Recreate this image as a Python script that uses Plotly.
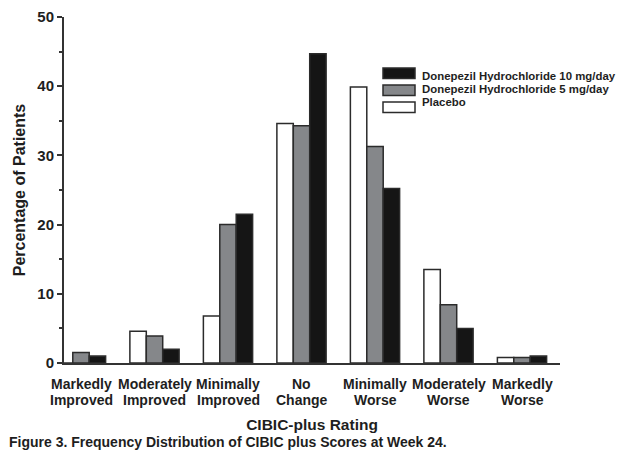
import plotly.graph_objects as go

categories = ["Markedly Improved", "Moderately Improved", "Minimally Improved", "No Change",
              "Minimally Worse", "Moderately Worse", "Markedly Worse"]
series_names = ["Placebo", "Donepezil Hydrochloride 5 mg/day", "Donepezil Hydrochloride 10 mg/day"]
placebo = [0.0, 4.6, 6.8, 34.6, 39.9, 13.5, 0.8]
dose_5mg = [1.5, 3.9, 20.0, 34.3, 31.3, 8.4, 0.8]
dose_10mg = [1.0, 2.0, 21.5, 44.7, 25.2, 5.0, 1.0]
y_ticks = [0, 10, 20, 30, 40, 50]

colors = ["#ffffff", "#85878a", "#151515"]
outline = "#2b2b2b"
text_color = "#1e1e1e"
sans = "Liberation Sans, Arial, sans-serif"

W, H = 620, 463
L, R, T, B = 64, 60, 17, 100

fig = go.Figure()
for name, vals, col in zip(series_names, [placebo, dose_5mg, dose_10mg], colors):
    fig.add_trace(go.Bar(
        x=categories, y=vals, name=name,
        marker=dict(color=col, line=dict(color=outline, width=1.5)),
        showlegend=False,
    ))

# category labels (two lines, tight line spacing)
annotations = []
for c in categories:
    first, second = c.split(" ", 1)
    for txt, shift in ((first, -21), (second, -37)):
        annotations.append(dict(
            x=c, xref="x", y=0, yref="paper", yanchor="middle", yshift=shift,
            text=txt, showarrow=False,
            font=dict(family=sans, size=14, color=text_color, weight="bold"),
        ))

# manual legend: top-to-bottom 10 mg, 5 mg, placebo
plot_w = W - L - R
plot_h = H - T - B
def px_to_paper_x(px):
    return (px - L) / plot_w
def px_to_paper_y(py):
    return (H - B - py) / plot_h

shapes = []
legend_order = [2, 1, 0]
box_x0, box_x1 = 383, 415
box_top0, box_step, box_h = 68, 17, 10.6
text_c0, text_step = 75.5, 13.5
for k, idx in enumerate(legend_order):
    top = box_top0 + k * box_step
    shapes.append(dict(
        type="rect", xref="paper", yref="paper",
        x0=px_to_paper_x(box_x0), x1=px_to_paper_x(box_x1),
        y0=px_to_paper_y(top + box_h), y1=px_to_paper_y(top),
        fillcolor=colors[idx], line=dict(color=outline, width=1.5),
    ))
    annotations.append(dict(
        x=px_to_paper_x(420), xref="paper", xanchor="left",
        y=px_to_paper_y(text_c0 + k * text_step), yref="paper", yanchor="middle",
        text=series_names[idx], showarrow=False,
        font=dict(family=sans, size=11.4, color=text_color, weight="bold"),
    ))

fig.update_layout(
    width=W, height=H,
    margin=dict(l=L, r=R, t=T, b=B, autoexpand=False),
    paper_bgcolor="white", plot_bgcolor="white",
    barmode="group", bargap=0.33, bargroupgap=0,
    title=dict(
        text="Figure 3. Frequency Distribution of CIBIC plus Scores at Week 24.",
        x=9 / W, xref="container", xanchor="left",
        y=1 - 442 / H, yref="container", yanchor="middle",
        font=dict(family=sans, size=14, color=text_color, weight="bold"),
    ),
    xaxis=dict(
        type="category", range=[-0.2313, 6.517],
        showline=True, linecolor="#333333", linewidth=2,
        showticklabels=False, ticks="", showgrid=False, zeroline=False,
        title=dict(text="CIBIC-plus Rating", standoff=55,
                   font=dict(family=sans, size=15.5, color=text_color, weight="bold")),
    ),
    yaxis=dict(
        range=[0, 50], tickvals=y_ticks, ticktext=[str(v) for v in y_ticks],
        showline=True, linecolor="#333333", linewidth=2,
        ticks="outside", ticklen=5, tickwidth=1.5, tickcolor="#333333",
        minor=dict(dtick=5, ticks="outside", ticklen=3, tickwidth=1.5, tickcolor="#333333"),
        showgrid=False, zeroline=False,
        tickfont=dict(family=sans, size=15, color=text_color, weight="bold"),
        title=dict(text="Percentage of Patients", standoff=8,
                   font=dict(family=sans, size=16, color=text_color, weight="bold")),
    ),
    annotations=annotations,
    shapes=shapes,
)

fig.write_html("out.html", config={"displayModeBar": False},
               post_script="document.body.style.margin='0';")
